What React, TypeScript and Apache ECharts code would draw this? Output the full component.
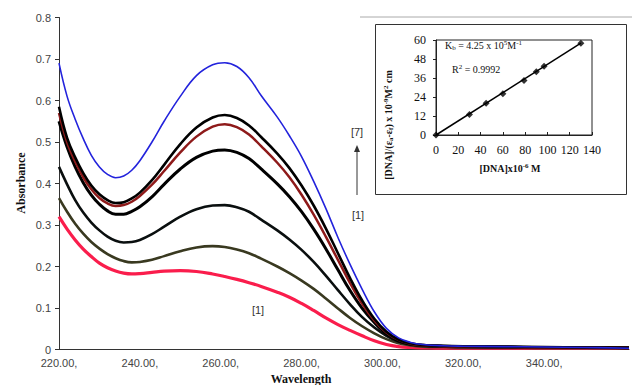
import React, { useEffect, useRef } from 'react';
import * as echarts from 'echarts';

const wavelengths = [220, 222, 224, 226, 228, 230, 232, 234, 236, 238, 240, 243, 246, 250, 254, 258, 261, 264, 267, 270, 274, 277, 280, 283, 286, 289, 292, 295, 298, 301, 304, 307, 310, 315, 320, 330, 340, 350, 361];

const curve1Red = [0.32, 0.29, 0.264, 0.242, 0.224, 0.208, 0.197, 0.189, 0.184, 0.182, 0.183, 0.186, 0.189, 0.19, 0.188, 0.182, 0.176, 0.169, 0.161, 0.152, 0.138, 0.126, 0.111, 0.094, 0.076, 0.06, 0.046, 0.033, 0.021, 0.012, 0.007, 0.005, 0.004, 0.003, 0.003, 0.003, 0.003, 0.003, 0.003];
const curve2Olive = [0.365, 0.332, 0.303, 0.279, 0.259, 0.243, 0.23, 0.22, 0.213, 0.21, 0.211, 0.216, 0.225, 0.237, 0.246, 0.249, 0.247, 0.241, 0.232, 0.219, 0.2, 0.184, 0.166, 0.146, 0.123, 0.099, 0.076, 0.056, 0.039, 0.025, 0.015, 0.01, 0.007, 0.006, 0.005, 0.005, 0.004, 0.004, 0.004];
const curve3Black = [0.44, 0.398, 0.36, 0.33, 0.306, 0.287, 0.272, 0.262, 0.258, 0.259, 0.264, 0.278, 0.296, 0.32, 0.338, 0.347, 0.348, 0.343, 0.332, 0.313, 0.287, 0.265, 0.24, 0.211, 0.178, 0.143, 0.109, 0.078, 0.053, 0.033, 0.019, 0.012, 0.009, 0.007, 0.006, 0.006, 0.005, 0.005, 0.004];
const curve4Black = [0.55, 0.488, 0.44, 0.402, 0.372, 0.35, 0.334, 0.326, 0.326, 0.333, 0.344, 0.368, 0.398, 0.435, 0.463, 0.478, 0.481, 0.475, 0.46, 0.435, 0.399, 0.368, 0.332, 0.29, 0.243, 0.192, 0.142, 0.099, 0.065, 0.038, 0.021, 0.013, 0.01, 0.008, 0.007, 0.006, 0.005, 0.005, 0.004];
const curve5DarkRed = [0.57, 0.5, 0.453, 0.415, 0.386, 0.365, 0.352, 0.346, 0.348, 0.356, 0.37, 0.397, 0.43, 0.475, 0.513, 0.537, 0.543, 0.536, 0.518, 0.49, 0.45, 0.415, 0.373, 0.325, 0.272, 0.216, 0.16, 0.11, 0.07, 0.041, 0.023, 0.014, 0.01, 0.008, 0.007, 0.006, 0.005, 0.005, 0.004];
const curve6Black = [0.585, 0.51, 0.463, 0.425, 0.395, 0.374, 0.36, 0.353, 0.355, 0.364, 0.378, 0.408, 0.445, 0.495, 0.535, 0.559, 0.565, 0.558, 0.54, 0.512, 0.472, 0.437, 0.395, 0.347, 0.292, 0.232, 0.172, 0.118, 0.074, 0.043, 0.024, 0.015, 0.011, 0.009, 0.008, 0.007, 0.006, 0.005, 0.004];
const curve7Blue = [0.69, 0.61, 0.555, 0.508, 0.468, 0.44, 0.422, 0.414, 0.418, 0.432, 0.455, 0.5, 0.55, 0.61, 0.66, 0.686, 0.691, 0.682, 0.655, 0.612, 0.56, 0.515, 0.465, 0.405, 0.34, 0.27, 0.205, 0.145, 0.091, 0.051, 0.028, 0.017, 0.012, 0.009, 0.008, 0.007, 0.006, 0.005, 0.003];

const xTicks = [220, 240, 260, 280, 300, 320, 340];

const insetDNA = [0, 30, 45, 60, 79, 90, 97, 130];
const insetRatio = [0, 13, 20, 26, 34.5, 40, 43.5, 58];
const fitX = [0, 130];
const fitY = [0, 58];

const curves = [
  { name: '[1]', data: curve1Red, color: '#fa1d4c', width: 3.2 },
  { name: '[2]', data: curve2Olive, color: '#393920', width: 2.6 },
  { name: '[3]', data: curve3Black, color: '#0a0f0f', width: 2.6 },
  { name: '[4]', data: curve4Black, color: '#000000', width: 3 },
  { name: '[5]', data: curve5DarkRed, color: '#8e1a1a', width: 2.5 },
  { name: '[6]', data: curve6Black, color: '#000000', width: 2.6 },
  { name: '[7]', data: curve7Blue, color: '#2323dc', width: 1.6 },
];

const serif = '"Liberation Serif", "Times New Roman", serif';
const sans = '"Liberation Sans", Arial, sans-serif';

export default function App() {
  const ref = useRef<HTMLDivElement>(null);
  useEffect(() => {
    if (!ref.current) return;
    const chart = echarts.init(ref.current, null, { renderer: 'svg' });
    const mainSeries = curves.map((c) => ({
      type: 'line',
      name: c.name,
      xAxisIndex: 0,
      yAxisIndex: 0,
      data: wavelengths.map((w, i) => [w, c.data[i]]),
      showSymbol: false,
      smooth: 0.4,
      lineStyle: { color: c.color, width: c.width },
      z: 3,
    }));
    chart.setOption({
      animation: false,
      backgroundColor: '#ffffff',
      grid: [
        { left: 59, top: 17.5, right: 0, bottom: 35.5 },
        { left: 436, top: 40, width: 156, height: 95, show: true, borderColor: '#222', borderWidth: 1, backgroundColor: 'transparent', z: 5 },
      ],
      xAxis: [
        {
          type: 'value', gridIndex: 0, min: 220, max: 361, interval: 20,
          axisLine: { show: true, lineStyle: { color: '#333', width: 1 } },
          axisTick: { show: false },
          splitLine: { show: false },
          axisLabel: {
            color: '#444', fontFamily: sans, fontSize: 11, margin: 8,
            formatter: (v: number) => (xTicks.includes(v) ? v.toFixed(2) + ',' : ''),
          },
        },
        {
          type: 'value', gridIndex: 1, min: 0, max: 140, interval: 20, z: 6,
          axisLine: { show: true, onZero: false, lineStyle: { color: '#222' } },
          axisTick: { show: true, inside: true, length: 3, lineStyle: { color: '#222' } },
          splitLine: { show: false },
          axisLabel: { color: '#111', fontFamily: serif, fontSize: 12, margin: 9 },
        },
      ],
      yAxis: [
        {
          type: 'value', gridIndex: 0, min: 0, max: 0.8, interval: 0.1,
          axisLine: { show: true, lineStyle: { color: '#333', width: 1 } },
          axisTick: { show: true, inside: false, length: 4, lineStyle: { color: '#333' } },
          splitLine: { show: false },
          axisLabel: {
            color: '#444', fontFamily: sans, fontSize: 11, margin: 8,
            formatter: (v: number) => String(Math.round(v * 10) / 10),
          },
        },
        {
          type: 'value', gridIndex: 1, min: 0, max: 60, interval: 12, z: 6,
          axisLine: { show: true, onZero: false, lineStyle: { color: '#222' } },
          axisTick: { show: true, inside: false, length: 3, lineStyle: { color: '#222' } },
          splitLine: { show: false },
          axisLabel: { color: '#111', fontFamily: serif, fontSize: 12, margin: 10 },
        },
      ],
      series: [
        ...mainSeries,
        {
          type: 'line', xAxisIndex: 1, yAxisIndex: 1, z: 7,
          data: fitX.map((x, i) => [x, fitY[i]]),
          showSymbol: false,
          lineStyle: { color: '#000', width: 1.5 },
        },
        {
          type: 'scatter', xAxisIndex: 1, yAxisIndex: 1, z: 8,
          data: insetDNA.map((x, i) => [x, insetRatio[i]]),
          symbol: 'diamond', symbolSize: 7,
          itemStyle: { color: '#000' },
        },
      ],
      graphic: [
        { type: 'line', z: -1, shape: { x1: 360, y1: 17, x2: 632, y2: 17 }, style: { stroke: '#aaaaaa', lineWidth: 1 } },
        { type: 'rect', z: -1, shape: { x: 375.5, y: 24.5, width: 251, height: 170 }, style: { fill: '#ffffff', stroke: '#333', lineWidth: 1 } },
        {
          type: 'text', rotation: Math.PI / 2, x: 21, y: 183,
          style: { text: 'Absorbance', font: `bold 12px ${serif}`, fill: '#111', align: 'center', verticalAlign: 'middle' },
        },
        {
          type: 'text', x: 301, y: 379,
          style: { text: 'Wavelength', font: `bold 12px ${serif}`, fill: '#111', align: 'center', verticalAlign: 'middle' },
        },
        { type: 'text', x: 357, y: 132, style: { text: '[7]', font: `11px ${sans}`, fill: '#333', align: 'center', verticalAlign: 'middle' } },
        { type: 'text', x: 358, y: 215, style: { text: '[1]', font: `11px ${sans}`, fill: '#333', align: 'center', verticalAlign: 'middle' } },
        { type: 'text', x: 258, y: 310, style: { text: '[1]', font: `11px ${sans}`, fill: '#333', align: 'center', verticalAlign: 'middle' } },
        { type: 'line', shape: { x1: 357, y1: 195, x2: 357, y2: 149 }, style: { stroke: '#333', lineWidth: 1 } },
        { type: 'polygon', shape: { points: [[357, 145], [354, 152], [360, 152]] }, style: { fill: '#333' } },
        {
          type: 'text', x: 445, y: 45, z: 10,
          style: {
            text: '{n|K}{s|b}{n| = 4.25 x 10}{p|5}{n|M}{p|-1}',
            verticalAlign: 'middle',
            rich: {
              n: { font: `10px ${serif}`, fill: '#111', verticalAlign: 'middle' },
              s: { font: `7px ${serif}`, fill: '#111', padding: [5, 0, 0, 0] },
              p: { font: `7px ${serif}`, fill: '#111', padding: [0, 0, 5, 0] },
            },
          },
        },
        {
          type: 'text', x: 452, y: 69, z: 10,
          style: {
            text: '{n|R}{p|2}{n| = 0.9992}',
            verticalAlign: 'middle',
            rich: {
              n: { font: `10px ${serif}`, fill: '#111' },
              p: { font: `7px ${serif}`, fill: '#111', padding: [0, 0, 5, 0] },
            },
          },
        },
        {
          type: 'text', x: 510, y: 168, z: 10,
          style: {
            text: '{n|[DNA]x10}{p|-6}{n| M}',
            align: 'center', verticalAlign: 'middle',
            rich: {
              n: { font: `bold 10px ${serif}`, fill: '#111' },
              p: { font: `bold 7px ${serif}`, fill: '#111', padding: [0, 0, 5, 0] },
            },
          },
        },
        {
          type: 'text', x: 388, y: 125, z: 10, rotation: Math.PI / 2,
          style: {
            text: '{n|[DNA]/(ε}{s|a}{n|-ε}{s|f}{n|) x 10}{p|-9}{n|M}{p|2}{n| cm}',
            align: 'center', verticalAlign: 'middle',
            rich: {
              n: { font: `bold 10px ${serif}`, fill: '#111' },
              s: { font: `bold 7px ${serif}`, fill: '#111', padding: [5, 0, 0, 0] },
              p: { font: `bold 7px ${serif}`, fill: '#111', padding: [0, 0, 5, 0] },
            },
          },
        },
      ],
    });
    return () => chart.dispose();
  }, []);
  return <div ref={ref} style={{ position: 'fixed', left: 0, top: 0, width: 632, height: 385 }} />;
}
